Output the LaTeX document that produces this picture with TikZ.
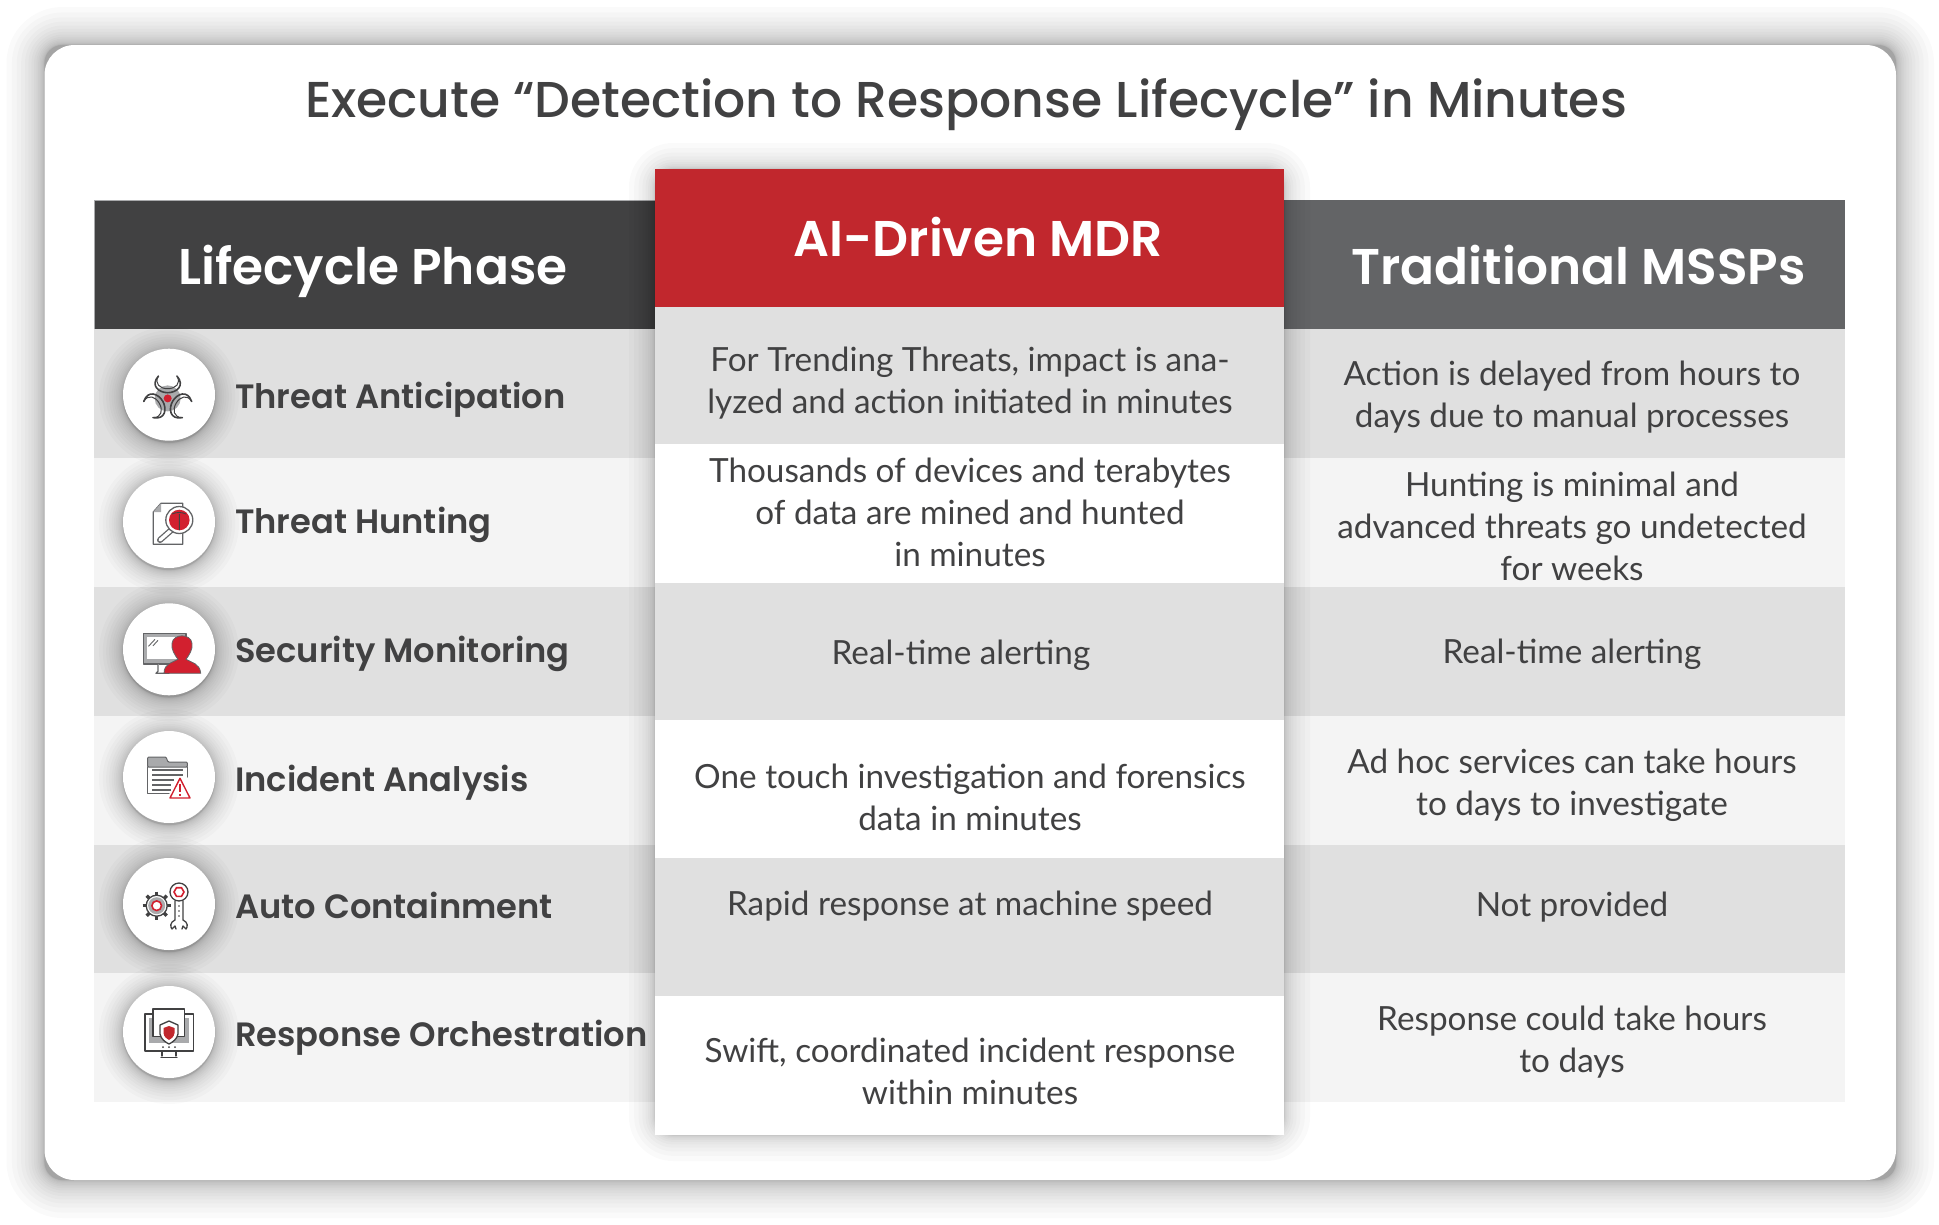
\documentclass[tikz,border=0pt]{standalone}
\usepackage{fontspec}
\setmainfont{Lato}
\newfontfamily\headfont{Poppins Medium}
\newfontfamily\headbold{Poppins SemiBold}
\definecolor{inkdark}{HTML}{414142}
\definecolor{inkred}{HTML}{C1272D}
\definecolor{iconred}{HTML}{D2202F}
\definecolor{inkgray}{HTML}{636466}
\definecolor{rowdark}{HTML}{E0E0E0}
\definecolor{rowlight}{HTML}{F4F4F4}
\definecolor{icongray}{HTML}{A9AAAC}
\newcommand\softbox[7]{\foreach \i in {1,...,#6}{
  \pgfmathsetmacro\rr{#7*(\i/#6)^3}
  \fill[black,opacity=#5,rounded corners=18pt+\rr*1pt] ({#1-\rr},{#2-\rr}) rectangle ({#3+\rr},{#4+\rr});}}
\newcommand\softdisc[1]{\foreach \i in {1,...,18}{
  \pgfmathsetmacro\rr{46+24*(\i/18)^3}
  \fill[black,opacity=.02] (#1) ++(0,2) circle (\rr);}}
\begin{document}
\begin{tikzpicture}
  [x=1pt,y=-1pt,
   cell/.style={anchor=north west,inner sep=0,outer sep=0},
   disc/.style={circle,fill=white,minimum size=92pt,inner sep=0},
   title/.style={anchor=base,inner sep=0,font=\headfont\fontsize{50.4}{56}\selectfont,text=inkdark},
   head/.style={anchor=base,inner sep=0,font=\headbold\fontsize{50.2}{54}\selectfont,text=white},
   phase/.style={anchor=base west,inner sep=0,font=\headbold\fontsize{33.7}{40}\selectfont,text=inkdark},
   body/.style={align=center,inner sep=0,font=\fontsize{33.3}{42}\selectfont,text=inkdark},
   ic/.style={draw=inkdark,line width=1.3pt,line join=round,line cap=round}]
\useasboundingbox (0,0) rectangle (1939,1224);
\fill[white] (0,0) rectangle (1939,1224);
\softbox{44.5}{45}{1896}{1180}{.02}{20}{38}
\node (card)[cell,fill=white,rounded corners=30pt,minimum width=1851.5pt,minimum height=1135pt] at (44.5,45) {};

\node (h1)[cell,fill=inkdark,draw=icongray,line width=1pt,minimum width=561pt,minimum height=129pt] at (94,200) {};
\node (h3)[cell,fill=inkgray,minimum width=561pt,minimum height=129pt] at (1284,200) {};
\node (a1)[cell,fill=rowdark,minimum width=1751pt,minimum height=128.5pt] at (94,329) {};
\node (a2)[cell,fill=rowlight,minimum width=1751pt,minimum height=129.5pt] at (94,457.5) {};
\node (a3)[cell,fill=rowdark,minimum width=1751pt,minimum height=129pt] at (94,587) {};
\node (a4)[cell,fill=rowlight,minimum width=1751pt,minimum height=129pt] at (94,716) {};
\node (a5)[cell,fill=rowdark,minimum width=1751pt,minimum height=128pt] at (94,845) {};
\node (a6)[cell,fill=rowlight,minimum width=1751pt,minimum height=129pt] at (94,973) {};

\softbox{655}{169}{1284}{1135}{.02}{14}{26}
\node (h2)[cell,fill=inkred,minimum width=629pt,minimum height=138pt] at (655,169) {};
\node (m1)[cell,fill=rowdark,minimum width=629pt,minimum height=137pt] at (655,307) {};
\node (m2)[cell,fill=white,minimum width=629pt,minimum height=138.5pt] at (655,444) {};
\node (m3)[cell,fill=rowdark,minimum width=629pt,minimum height=137.5pt] at (655,582.5) {};
\node (m4)[cell,fill=white,minimum width=629pt,minimum height=138pt] at (655,720) {};
\node (m5)[cell,fill=rowdark,minimum width=629pt,minimum height=137.5pt] at (655,858) {};
\node (m6)[cell,fill=white,minimum width=629pt,minimum height=139.5pt] at (655,995.5) {};

\node (t0)[title] at (966,117) {Execute “Detection to Response Lifecycle” in Minutes};
\node (t1)[head] at (373,284.5) {Lifecycle Phase};
\node (t2)[head] at (978,256.5) {AI-Driven MDR};
\node (t3)[head] at (1578.5,284.5) {Traditional MSSPs};

\softdisc{169,394.7}
\softdisc{169,522}
\softdisc{169,649.3}
\softdisc{169,777}
\softdisc{169,904}
\softdisc{169,1032}
\node (c1)[disc] at (169,394.7) {};
\node (c2)[disc] at (169,522) {};
\node (c3)[disc] at (169,649.3) {};
\node (c4)[disc] at (169,777) {};
\node (c5)[disc] at (169,904) {};
\node (c6)[disc] at (169,1032) {};

\node (p1)[phase] at (235,408.3) {Threat Anticipation};
\node (p2)[phase] at (235,533.3) {Threat Hunting};
\node (p3)[phase] at (235,662.7) {Security Monitoring};
\node (p4)[phase] at (235,791) {Incident Analysis};
\node (p5)[phase] at (235,918.3) {Auto Containment};
\node (p6)[phase] at (235,1046.7) {Response Orchestration};

\node (b1)[body] at (970,383.5) {For Trending Threats, impact is ana-\\lyzed and action initiated in minutes};
\node (b2)[body] at (970,512.5) {Thousands of devices and terabytes\\of data are mined and hunted\\in minutes};
\node (b3)[body] at (961,655.5) {Real-time alerting};
\node (b4)[body] at (970,797.5) {One touch investigation and forensics\\data in minutes};
\node (b5)[body] at (970,906.5) {Rapid response at machine speed};
\node (b6)[body] at (970,1071) {Swift, coordinated incident response\\within minutes};

\node (r1)[body] at (1572,397.5) {Action is delayed from hours to\\days due to manual processes};
\node (r2)[body] at (1572,526.5) {Hunting is minimal and\\advanced threats go undetected\\for weeks};
\node (r3)[body] at (1572,654.5) {Real-time alerting};
\node (r4)[body] at (1572,785.5) {Ad hoc services can take hours\\to days to investigate};
\node (r5)[body] at (1572,907.5) {Not provided};
\node (r6)[body] at (1572,1042.5) {Response could take hours\\to days};

\begin{scope}[shift={(c1)}]
  \fill[icongray] (-1.3,3.7) circle (13);
  \foreach \a in {0,120,240}{
    \draw[ic,line width=1.6pt,rotate around={\a:(-1.3,3.7)}]
      (-10.6,-18.6) .. controls (-19,-9) and (-10,-2) .. (-1.3,-2)
      .. controls (7.4,-2) and (16.4,-9) .. (8,-18.6);
    \draw[ic,line width=1pt,rotate around={\a:(-1.3,3.7)}]
      (-10.6,-18.6) .. controls (-15,-11) and (-9,-6) .. (-1.3,-6)
      .. controls (6.4,-6) and (12.4,-11) .. (8,-18.6);}
  \fill[iconred] (-1.3,3.7) circle (4);
\end{scope}

\begin{scope}[shift={(c2)}]
  \draw[ic,fill=white,draw=inkgray] (-8,-18.7) -- (13.7,-18.7) -- (13.7,22.3) -- (-15.7,22.3) -- (-15.7,-10) -- cycle;
  \fill[icongray] (-8,-18.7) -- (-8,-10) -- (-15.7,-10) -- cycle;
  \draw[line width=6pt,inkgray,line cap=round] (4.3,6.3) -- (-9,18);
  \draw[line width=3.4pt,white,line cap=round] (4.3,6.3) -- (-9,18);
  \draw[ic,fill=white,draw=inkgray] (10.3,-2) circle (13.5);
  \fill[iconred] (10.3,-2) circle (10.3);
  \draw[inkdark,line width=.9pt] (10.3,-8) -- (10.3,8) (3,-8) .. controls (7,-10) and (13,-10) .. (17,-8);
\end{scope}

\begin{scope}[shift={(c3)}]
  \draw[ic,fill=icongray,draw=inkgray] (-25.7,-16) rectangle (17,14.7);
  \fill[white] (-21.7,-12) rectangle (10,10);
  \draw[inkgray,line width=.9pt] (-20.5,-3) -- (-14,-10) (-16,-3.5) -- (-11,-9);
  \draw[ic,draw=inkgray,fill=white] (-11,14.7) -- (-11,22) -- (-13,24) -- (0,24);
  \fill[iconred,draw=inkgray,line width=.8pt] (-5,24) .. controls (-5,14) and (4,13) .. (9,10)
    .. controls (6,6) and (2,0) .. (3,-6) .. controls (4,-16) and (22,-16) .. (23,-6)
    .. controls (24,0) and (20,6) .. (17,10) .. controls (22,13) and (31,14) .. (31.7,24) -- cycle;
\end{scope}

\begin{scope}[shift={(c4)}]
  \fill[rounded corners=1pt,icongray,draw=inkgray,line width=1pt] (-21.3,-13) -- (-21.3,-20) -- (-3,-20) -- (-1,-15) -- (18.3,-15) -- (18.3,-10) -- (-21.3,-10) -- cycle;
  \draw[ic,draw=inkgray,line width=1.2pt] (-21.3,-10) -- (-21.3,16.3) -- (0,16.3) (18.3,-10) -- (18.3,0);
  \foreach \y in {-7,-2,3,8,13}
    \draw[inkgray,line width=1.2pt] (-17,\y) -- ({\y<2?14:(\y<5?5:2)},\y);
  \draw[iconred,fill=white,line width=1.4pt,line join=round] (11,1.3) -- (21,21) -- (1,21) -- cycle;
  \draw[iconred,line width=1.4pt] (11,7) -- (11,15) (11,17) -- (11,18.6);
\end{scope}

\begin{scope}[shift={(c5)}]
  \foreach \a in {0,45,...,315}
    \draw[inkdark,line width=3.4pt,rotate around={\a:(-12.3,1.7)}] (-12.3,-12.5) -- (-12.3,-8);
  \draw[ic,fill=white] (-12.3,1.7) circle (10.5);
  \fill[icongray] (-12.3,1.7) circle (8.5);
  \draw[iconred,fill=white,line width=1.6pt] (-12.3,1.7) circle (4.8);
  \draw[ic,fill=white] (6,-3) -- (6,16) .. controls (1,18) and (1,23) .. (3,25)
    -- (6,22) -- (7,25) (13,25) -- (14,22) -- (17,25) .. controls (19,23) and (19,18) .. (14,16) -- (14,-3);
  \draw[ic,fill=white] (10,-12) circle (9);
  \draw[iconred,fill=white,line width=1.6pt] (15,-12) -- (12.5,-7.7) -- (7.5,-7.7) -- (5,-12) -- (7.5,-16.3) -- (12.5,-16.3) -- cycle;
  \foreach \y in {2,7,12}
    \fill[inkdark] (10,\y) circle (.8);
\end{scope}

\begin{scope}[shift={(c6)}]
  \draw[ic,fill=white] (-24,-18) rectangle (24.3,19);
  \fill[icongray] (-19.7,-14.3) rectangle (20,11);
  \foreach \x in {-6,0,6}
    \fill[inkdark] (\x,15) circle (1);
  \draw[ic] (-7,19) -- (-7,24) (7,19) -- (7,24) (-8,25.5) -- (8,25.5);
  \draw[ic,fill=white] (-16,-23) rectangle (15.7,4.7);
  \draw[ic,fill=white] (0,-11) -- (9,-7) -- (9,2) .. controls (8,7) and (4,10) .. (0,12)
    .. controls (-4,10) and (-8,7) .. (-9,2) -- (-9,-7) -- cycle;
  \fill[inkred] (0,-6) -- (5.5,-4) -- (5.5,1) .. controls (5,5) and (2,7) .. (0,8)
    .. controls (-2,7) and (-5,5) .. (-5.5,1) -- (-5.5,-4) -- cycle;
\end{scope}
\end{tikzpicture}
\end{document}
